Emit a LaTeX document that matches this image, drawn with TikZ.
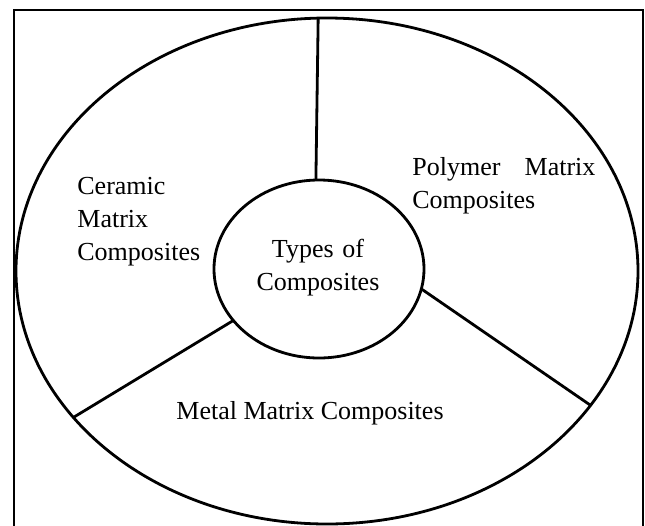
\documentclass[tikz,border=0pt]{standalone}
\usepackage{fontspec}
\setmainfont{Liberation Serif}
\usetikzlibrary{shapes.geometric}

\begin{document}
\begin{tikzpicture}[
  x=0.5pt, y=-0.5pt,
  ring/.style={draw, ellipse, line width=1.4pt, inner sep=0pt, outer sep=0pt},
  txt/.style={inner sep=0pt, font=\fontsize{13}{16.5}\selectfont},
  spoke/.style={line width=1.4pt},
]
\useasboundingbox (0,0) rectangle (645,526);
% frame, its lower edge is cut off
\draw[line width=1pt] (14,526) -- (14,10) -- (643,10) -- (643,526);

\node[ring, minimum width=311pt, minimum height=253pt] (outer) at (327,271) {};
\node[ring, minimum width=105pt, minimum height=89pt]  (inner) at (319,269) {};

\draw[spoke] (inner.92)  -- (outer.92.5);
\draw[spoke] (inner.211) -- (outer.210.5);
\draw[spoke] (inner.349) -- (outer.333);

\node[txt, text width=70pt, align=center, anchor=base] (types) at (318,257) {Types of\\Composites};
\node[txt, text width=70pt, align=left, anchor=base west] (ceramic) at (77,194) {Ceramic\\Matrix\\Composites};
\node[txt, text width=91.5pt, align=left, anchor=base west] (polymer) at (412,175) {Polymer\hfill Matrix\\Composites};
\node[txt, anchor=base] (metal) at (310,419) {Metal Matrix Composites};
\end{tikzpicture}
\end{document}
